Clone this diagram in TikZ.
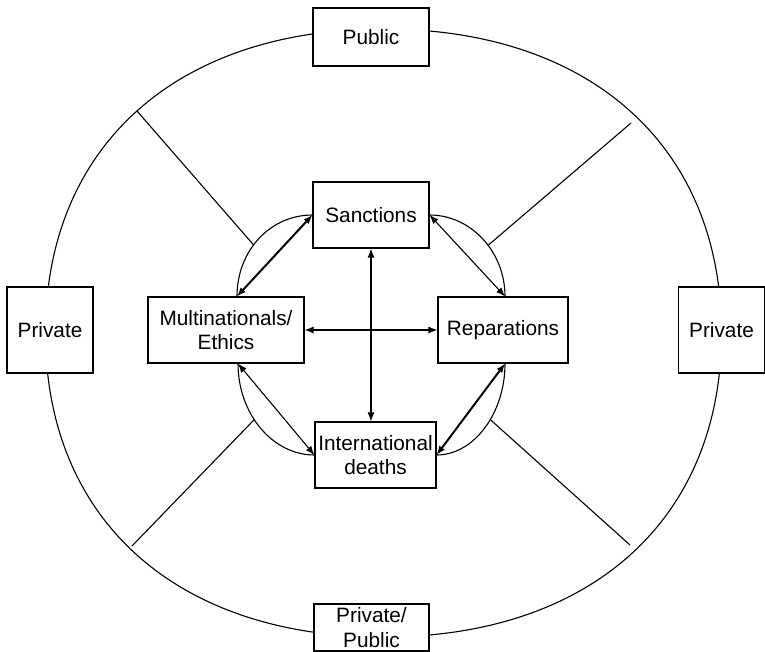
\documentclass[tikz,border=0pt]{standalone}
\usepackage{fontspec}
\setmainfont{Liberation Sans}
\usetikzlibrary{arrows.meta}

\tikzset{
  box/.style={draw, fill=white, line width=1.2pt, inner sep=0pt, align=center,
    font=\fontsize{20.8}{24.5}\selectfont},
  link/.style={{Latex[length=9pt,width=7pt]}-{Latex[length=9pt,width=7pt]}, line width=1.1pt},
  boldlink/.style={link, line width=2pt},
  rim/.style={line width=1.1pt}
}

\begin{document}
\begin{tikzpicture}[x=1pt,y=-1pt]
	\useasboundingbox (0,0) rectangle (765,652);
	\draw[rim] (45.5,333) .. controls (45.5,146.6) and (176.3,29) .. (383.5,29)
		.. controls (590.7,29) and (721.5,146.6) .. (721.5,333)
		.. controls (721.5,519.4) and (590.7,637) .. (383.5,637)
		.. controls (176.3,637) and (45.5,519.4) .. (45.5,333) -- cycle;

	\node[box, minimum width=116, minimum height=58] (public) at (371,37) {Public};
	\node[box, minimum width=115, minimum height=47] (mixed) at (371.5,627.5) {Private/\\Public};
	\node[box, minimum width=86, minimum height=86] (privleft) at (50,330) {Private};
	\node[box, minimum width=86, minimum height=86] (privright) at (721.5,330) {Private};

	\node[box, minimum width=116, minimum height=66] (sanctions) at (371,215) {Sanctions};
	\node[box, minimum width=156, minimum height=66] (multi) at (226,330) {Multinationals/\\Ethics};
	\node[box, minimum width=130, minimum height=66] (reparations) at (503,330) {Reparations};
	\node[box, minimum width=121, minimum height=66] (deaths) at (375.5,455) {International\\deaths};

	\coordinate (m1) at ([xshift=11]multi.north);
	\coordinate (m2) at ([xshift=12]multi.south);
	\coordinate (r1) at ([xshift=2]reparations.north);
	\coordinate (r2) at ([xshift=2]reparations.south);

	\draw[rim] (sanctions.west) .. controls +(-42,0) and +(0,-46) .. (m1) coordinate[pos=0.57] (a1);
	\draw[rim] (sanctions.east) .. controls +(41,0) and +(0,-45) .. (r1) coordinate[pos=0.57] (a2);
	\draw[rim] (m2) .. controls +(0,50) and +(-42,0) .. (deaths.west) coordinate[pos=0.42] (a3);
	\draw[rim] (r2) .. controls +(0,50) and +(37,0) .. (deaths.east) coordinate[pos=0.42] (a4);

	\draw[boldlink] (sanctions.west) -- (m1);
	\draw[link] (sanctions.east) -- (r1);
	\draw[link] (m2) -- (deaths.west);
	\draw[boldlink] (r2) -- (deaths.east);
	\draw[link] (sanctions.south) -- (sanctions.south |- deaths.north);
	\draw[link] (multi.east) -- (reparations.west);

	\coordinate (o1) at (137,111);
	\coordinate (o2) at (631,123);
	\coordinate (o3) at (132,546);
	\coordinate (o4) at (630,545);
	\draw[rim] (o1) -- (a1);
	\draw[rim] (o2) -- (a2);
	\draw[rim] (o3) -- (a3);
	\draw[rim] (o4) -- (a4);
\end{tikzpicture}
\end{document}
